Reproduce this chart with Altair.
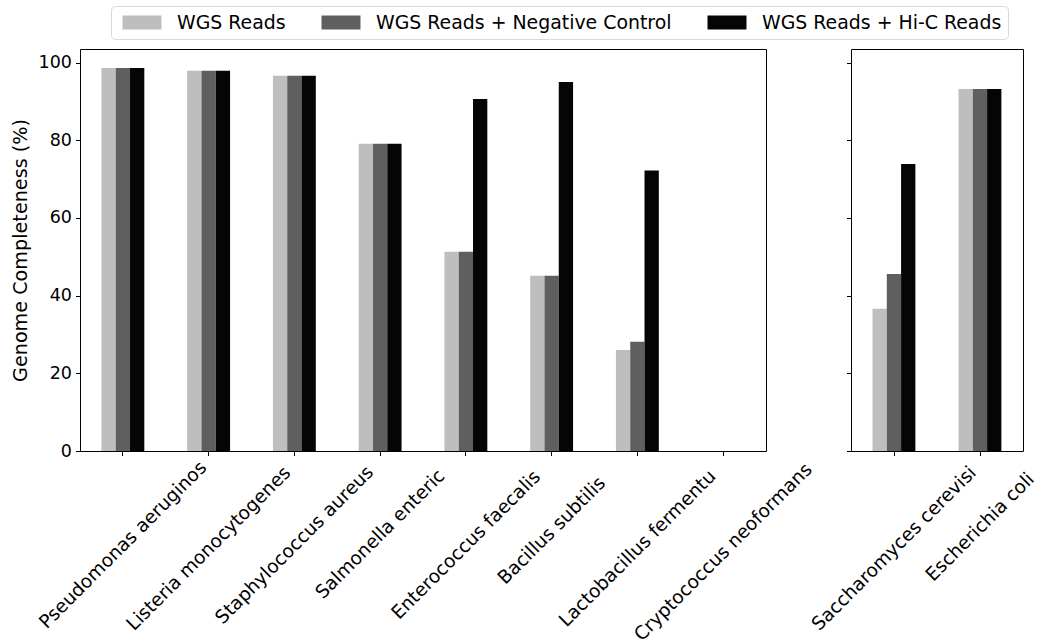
import altair as alt
import pandas as pd

# Genome completeness (%) per organism for the three assembly inputs
species_main = [
    "Pseudomonas aeruginos", "Listeria monocytogenes", "Staphylococcus aureus",
    "Salmonella enteric", "Enterococcus faecalis", "Bacillus subtilis",
    "Lactobacillus fermentu", "Cryptococcus neoformans",
]
species_side = ["Saccharomyces cerevisi", "Escherichia coli"]

series = ["WGS Reads", "WGS Reads + Negative Control", "WGS Reads + Hi-C Reads"]
colors = ["#bebebe", "#5e605e", "#050505"]

wgs_main = [98.6, 97.9, 96.6, 79.1, 51.3, 45.1, 26.0, 0.0]
neg_main = [98.6, 97.9, 96.6, 79.1, 51.3, 45.1, 28.1, 0.0]
hic_main = [98.6, 97.9, 96.6, 79.1, 90.6, 95.0, 72.2, 0.0]

wgs_side = [36.6, 93.2]
neg_side = [45.6, 93.2]
hic_side = [73.9, 93.2]

Y_MAX = 103.5
FONT = "DejaVu Sans"
TICK_FS = 17.5
TITLE_FS = 19.2
XLAB_FS = 18.6
LEG_FS = 18.9
H = 402


def long_table(names, *cols):
    rows = []
    for s, vals in zip(series, cols):
        for i, (name, v) in enumerate(zip(names, vals)):
            rows.append({"species": name, "series": s, "value": v, "order": i})
    return pd.DataFrame(rows)


main_df = long_table(species_main, wgs_main, neg_main, hic_main)
side_df = long_table(species_side, wgs_side, neg_side, hic_side)

color_scale = alt.Scale(domain=series, range=colors)
y_scale = alt.Scale(domain=[0, Y_MAX], nice=False, zero=True)


def panel(df, names, width, show_y):
    x_enc = alt.X(
        "species:N",
        sort=names,
        scale=alt.Scale(paddingInner=0.5, paddingOuter=0.25),
        axis=alt.Axis(title=None, labels=False, domain=False, ticks=True,
                      tickSize=4.5, tickColor="black", tickWidth=1),
    )
    if show_y:
        y_axis = alt.Axis(title="Genome Completeness (%)", values=[0, 20, 40, 60, 80, 100],
                          grid=False, domain=False, tickSize=4.5, tickColor="black",
                          labelPadding=4, titlePadding=8, titleFontWeight="normal",
                          titleFontSize=TITLE_FS, labelFontSize=TICK_FS,
                          labelFont=FONT, titleFont=FONT,
                          labelColor="black", titleColor="black")
    else:
        y_axis = alt.Axis(title=None, labels=False, values=[0, 20, 40, 60, 80, 100],
                          grid=False, domain=False, tickSize=4.5, tickColor="black")

    # Legend swatches are wide rectangles; the path is drawn at twice its
    # nominal size so the entry rows stay compact.
    bars = alt.Chart(df).mark_bar().encode(
        x=x_enc,
        xOffset=alt.XOffset("series:N", sort=series, scale=alt.Scale(paddingInner=0, paddingOuter=0)),
        y=alt.Y("value:Q", scale=y_scale, axis=y_axis),
        color=alt.Color(
            "series:N", scale=color_scale, sort=series,
            legend=alt.Legend(
                title=None, orient="none", direction="horizontal",
                legendX=31, legendY=-43,
                symbolType="M-2,-0.72H2V0.72H-2Z", symbolSize=380,
                symbolStrokeWidth=0, symbolOpacity=1, symbolOffset=14.5,
                labelFont=FONT, labelFontSize=LEG_FS, labelColor="black",
                labelLimit=0, labelOffset=25, columnPadding=30, padding=6.5,
                strokeColor="#d9d9d9", fillColor="white", cornerRadius=4,
            ),
        ),
    )

    # Tick labels, rotated 45 degrees and centred below each tick
    label_df = pd.DataFrame({"species": names})
    labels = alt.Chart(label_df).transform_calculate(
        r="0.354 * (length(datum.species) * 10.1 + 22)"
    ).mark_text(
        angle=315, align="center", baseline="middle", theta=3.141592653589793,
        font=FONT, fontSize=XLAB_FS, color="black",
    ).encode(
        x=alt.X("species:N", sort=names),
        y=alt.value(H + 11),
        radius=alt.Radius("r:Q", scale=None),
        text="species:N",
    )

    return alt.layer(bars, labels).properties(width=width, height=H)


left = panel(main_df, species_main, 686, True)
right = panel(side_df, species_side, 172, False)

chart = alt.hconcat(left, right, spacing=85, bounds="flush").resolve_scale(
    color="shared"
).properties(
    padding={"left": 10, "top": 5, "right": 5, "bottom": 5},
    background="white",
).configure_view(
    stroke="black", strokeWidth=1
).configure_axis(
    labelFont=FONT, titleFont=FONT, labelColor="black", titleColor="black",
)

chart.save("out.html", embed_options={"renderer": "svg", "actions": False})
